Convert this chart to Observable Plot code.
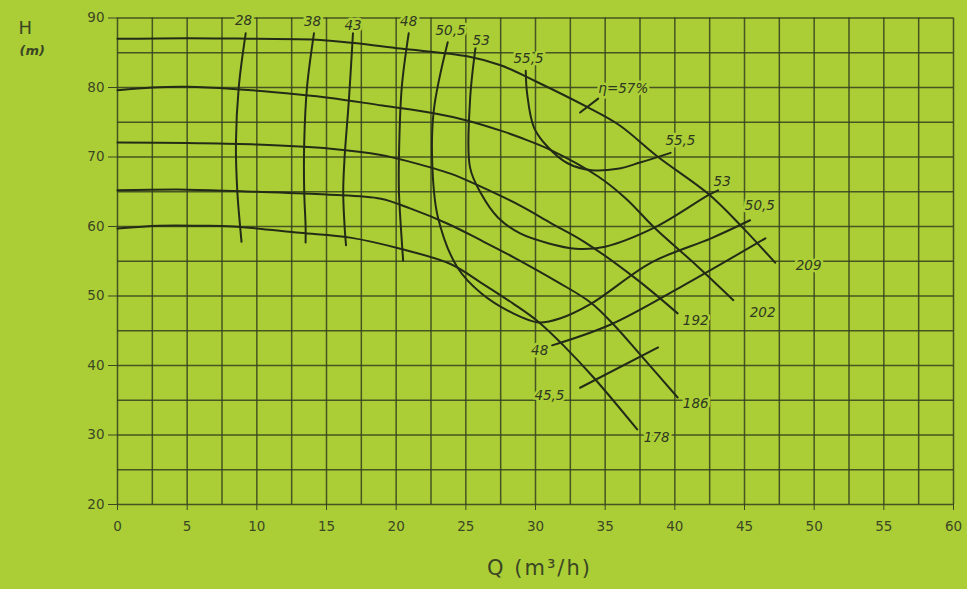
<!DOCTYPE html>
<html>
<head>
<meta charset="utf-8">
<script src="https://cdn.jsdelivr.net/npm/d3@7"></script>
<script src="https://cdn.jsdelivr.net/npm/@observablehq/plot@0.6"></script>
<style>
  html, body { margin: 0; padding: 0; background: #abce36; }
  #chart { width: 967px; height: 589px; }
</style>
</head>
<body>
<div id="chart"></div>
<script>
// ---- Axis ticks and grid ----
const xTicks = [0, 5, 10, 15, 20, 25, 30, 35, 40, 45, 50, 55, 60];
const yTicks = [20, 30, 40, 50, 60, 70, 80, 90];
const xGrid = d3.range(0, 60.01, 2.5);
const yGrid = [20, 25, 30, 35, 40, 45, 50, 55, 60, 65, 70, 75, 80, 85, 90];

// ---- Head curves (Q m3/h, H m) per impeller diameter ----
const head209 = [[0,87],[5,87.1],[10,87],[14,86.9],[17,86.4],[20.3,85.6],[25.1,84.5],[27.5,83.2],[30,80.9],[33.7,77.2],[36,74.6],[38.8,70],[42.4,64.7],[44.7,60.2],[47.2,54.8]];
const head202 = [[0,79.6],[2.5,80],[5,80.1],[8.3,79.8],[13,79],[15.3,78.5],[19,77.4],[22.7,76.3],[25,75.3],[27.5,73.8],[28.9,72.8],[31.1,71],[34.5,67.2],[36.5,64],[38.5,59.9],[41.5,54.5],[44.2,49.4]];
const head192 = [[0,72.1],[5,72],[10,71.8],[15.3,71.2],[18.9,70.3],[21,69.3],[23.9,67.6],[26,65.8],[28.9,63],[31.1,60.5],[33.5,57.8],[37.2,52.5],[40.2,47.5]];
const head186 = [[0,65.2],[5,65.3],[10,65],[15,64.6],[18.9,64],[21,62.6],[23.7,60.4],[26.1,58],[28.5,55.5],[31.6,52],[34,49],[35.6,45.9],[37.5,41.6],[40.2,35.4]];
const head178 = [[0,59.7],[3,60.1],[6,60.1],[8.3,60],[13.1,59.1],[16.7,58.4],[20.3,56.8],[23.9,54.6],[26.1,51.9],[28.4,48.9],[30.2,46.3],[32,42.9],[34.2,38.2],[37.3,30.8]];

// ---- Efficiency iso-curves (%) ----
const eff28 = [[9.2,87.8],[8.7,80],[8.5,72],[8.6,65],[8.8,60],[8.9,57.8]];
const eff38 = [[14.1,87.8],[13.6,80],[13.4,72],[13.4,65],[13.5,60],[13.5,57.7]];
const eff43 = [[16.9,87.8],[16.6,78],[16.3,70],[16.2,65],[16.3,60],[16.4,57.3]];
const eff48a = [[20.9,87.8],[20.4,80],[20.2,70],[20.2,65],[20.4,58],[20.5,55.1]];
const eff48b = [[31.2,42.9],[35.4,45.9],[40.6,51.5],[46.5,58.3]];
const eff505 = [[23.7,86.5],[22.7,76.7],[22.6,68.5],[23,61.3],[24.4,54.1],[26.1,50.4],[28.4,47.5],[30.2,46.2],[31.8,46.8],[34,48.9],[38.3,54.8],[42.6,58.3],[45.4,60.9]];
const eff53 = [[25.7,85.8],[25.3,78.1],[25.3,68.5],[26.1,64.7],[27.3,61.3],[28.9,59],[30.9,57.6],[32.9,56.8],[35,57.1],[38.6,59.9],[42.4,64.5],[43.1,65.2]];
const eff555 = [[29.3,82.4],[29.4,79.1],[29.9,74.2],[30.9,71.4],[32.3,69.1],[34,68.1],[35.9,68.3],[37.5,69.2],[39.7,70.6]];
const eff455 = [[33.2,36.8],[38.8,42.6]];
const eff57 = [[33.2,76.4],[34.5,78.4]];

// ---- Curve labels ----
const labelText = ["28","38","43","48","50,5","53","55,5","η=57%","55,5","53","50,5","209","202","192","48","45,5","186","178"];
const labelQ    = [9.05,14,16.9,20.9,23.9,26.1,29.5,36.3,40.4,43.4,46.1,49.6,46.3,41.5,30.3,31.0,41.5,38.7];
const labelH    = [89.6,89.4,88.9,89.4,88.2,86.8,84.2,79.9,72.4,66.5,63.0,54.4,47.6,46.4,42.2,35.7,34.5,29.6];
const labels = labelText.map((t, i) => ({t, q: labelQ[i], h: labelH[i]}));

const bg = "#abce36";
const ink = "#232b17";
const gridInk = "#35401f";
const font = "'DejaVu Sans', 'Liberation Sans', sans-serif";

const curves = [head209, head202, head192, head186, head178, eff28, eff38, eff43, eff48a, eff48b, eff505, eff53, eff555, eff455, eff57];

const chart = Plot.plot({
  width: 967,
  height: 589,
  marginLeft: 117,
  marginRight: 14,
  marginTop: 17.5,
  marginBottom: 85,
  style: {background: "transparent", fontFamily: font, fontSize: "13.5px", color: "#3b4723", overflow: "visible"},
  x: {domain: [0, 60], ticks: xTicks, tickSize: 6, tickPadding: 11, label: null},
  y: {domain: [20, 90], ticks: yTicks, tickSize: 9, tickPadding: 4, label: null},
  marks: [
    Plot.ruleX(xGrid, {stroke: gridInk, strokeWidth: 1.5, strokeOpacity: 0.85}),
    Plot.ruleY(yGrid, {stroke: gridInk, strokeWidth: 1.5, strokeOpacity: 0.85}),
    ...curves.map(c => Plot.line(c, {x: d => d[0], y: d => d[1], curve: "catmull-rom", stroke: ink, strokeWidth: 2})),
    Plot.text(labels, {x: "q", y: "h", text: "t", fill: "#2e3820", stroke: bg, strokeWidth: 5, fontSize: 13.5, fontStyle: "italic"}),
    Plot.text(["H"], {frameAnchor: "top-left", dx: -99, dy: 3, text: d => d, fontSize: 18, fill: "#3b4723"}),
    Plot.text(["(m)"], {frameAnchor: "top-left", dx: -98, dy: 28, text: d => d, fontSize: 13, fontStyle: "italic", fontWeight: "bold", fill: "#3b4723"}),
    Plot.text(["Q (m³/h)"], {frameAnchor: "bottom", dx: 4, dy: 70, text: d => d, fontSize: 21, fill: "#3b4723"})
  ]
});
document.getElementById("chart").appendChild(chart);
// widen the axis title spacing like the reference
d3.select(chart).selectAll("text").filter(function() { return this.textContent === "Q (m³/h)"; }).attr("letter-spacing", "2px");
</script>
</body>
</html>
